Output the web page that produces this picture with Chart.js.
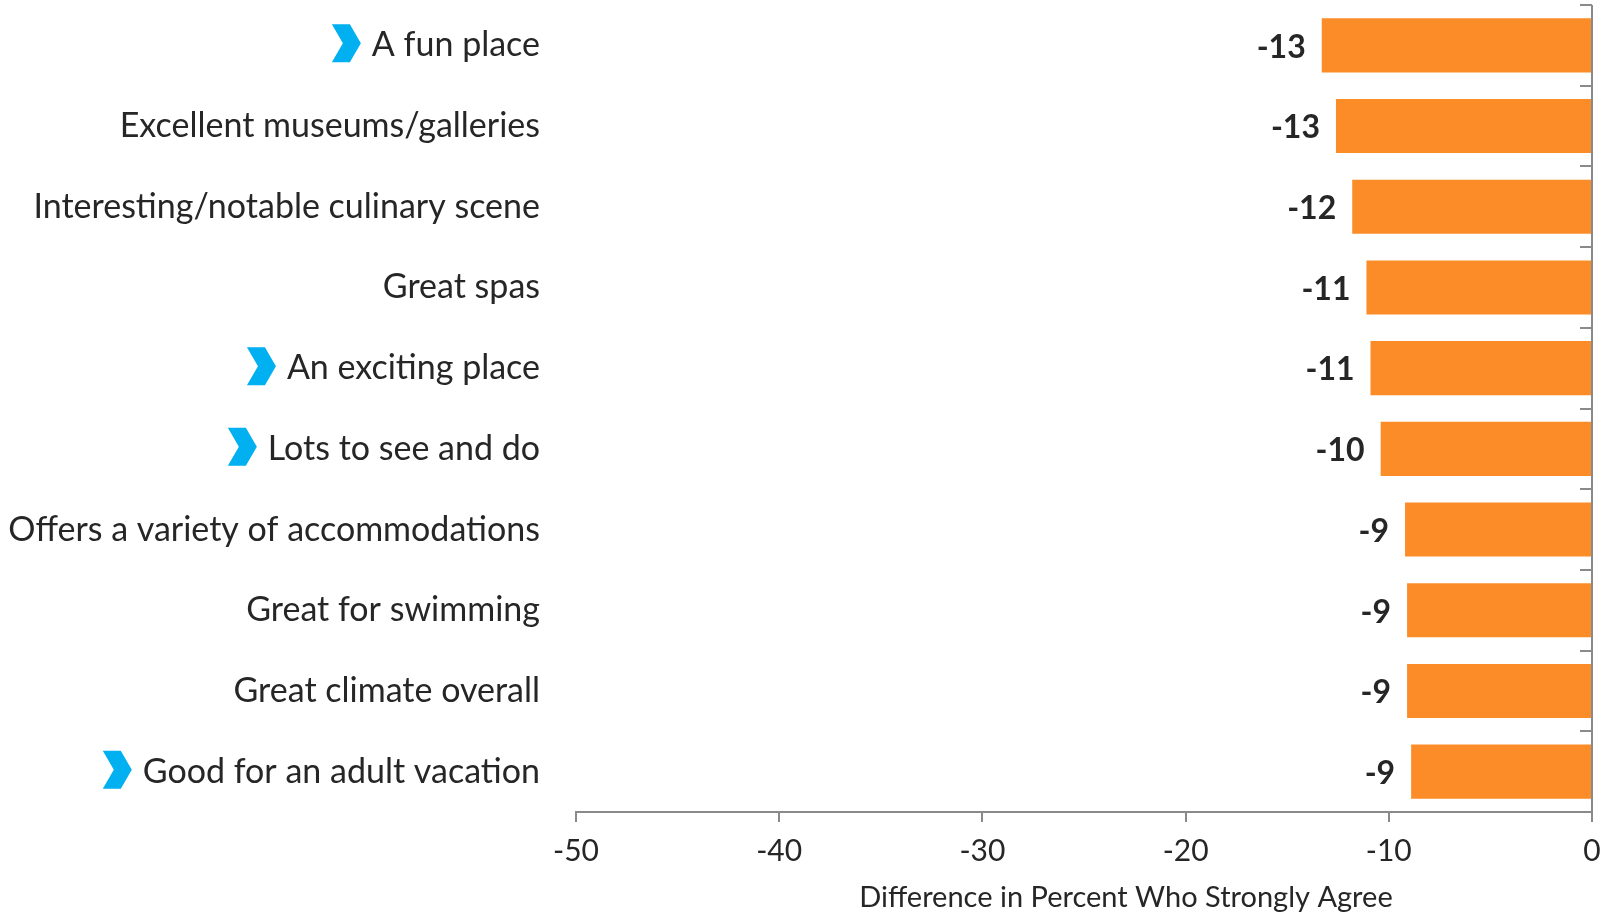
<!DOCTYPE html>
<html>
<head>
<meta charset="utf-8">
<script src="https://cdn.jsdelivr.net/npm/chart.js@4/dist/chart.umd.min.js"></script>
<style>
  html, body { margin: 0; padding: 0; background: #fff; }
  #wrap { width: 1605px; height: 913px; }
</style>
</head>
<body>
<div id="wrap"><canvas id="myChart1" width="1605" height="913"></canvas></div>
<script>
// categories, top to bottom
var categories = [
    'A fun place',
    'Excellent museums/galleries',
    'Interesting/notable culinary scene',
    'Great spas',
    'An exciting place',
    'Lots to see and do',
    'Offers a variety of accommodations',
    'Great for swimming',
    'Great climate overall',
    'Good for an adult vacation'
];
// rows with the blue arrow in front
var highlighted = [true, false, false, false, true, true, false, false, false, true];
// difference in percent who strongly agree
var values = [-13.3, -12.6, -11.8, -11.1, -10.9, -10.4, -9.2, -9.1, -9.1, -8.9];
var xTicks = [-50, -40, -30, -20, -10, 0];
var xTitle = 'Difference in Percent Who Strongly Agree';

var FONT = 'Lato';
var textColor = '#262626';
var axisColor = '#8a8a8a';
var labelPadding = 36;
var labelSize = 34;

// bold numbers left of each bar
var valueLabels = {
    id: 'valueLabels',
    afterDatasetsDraw: function (chart) {
        var ctx = chart.ctx;
        var meta = chart.getDatasetMeta(0);
        ctx.save();
        ctx.font = 'bold 32px ' + FONT;
        ctx.fillStyle = textColor;
        ctx.textAlign = 'right';
        ctx.textBaseline = 'middle';
        meta.data.forEach(function (bar, i) {
            ctx.fillText(String(Math.round(values[i])), bar.x - 16, bar.y + 2);
        });
        ctx.restore();
    }
};

// short inner ticks on the zero line, blue chevrons, axis title
var extras = {
    id: 'extras',
    afterDraw: function (chart) {
        var ctx = chart.ctx;
        var x = chart.scales.x, y = chart.scales.y;
        var x0 = x.getPixelForValue(0);
        ctx.save();
        ctx.strokeStyle = axisColor;
        ctx.lineWidth = 2;
        for (var i = 0; i <= categories.length; i++) {
            var py = Math.round(y.getPixelForValue(i - 0.5));
            ctx.beginPath();
            ctx.moveTo(x0 - 12, py);
            ctx.lineTo(x0, py);
            ctx.stroke();
        }
        ctx.font = labelSize + 'px ' + FONT;
        ctx.fillStyle = '#00b0f0';
        categories.forEach(function (label, i) {
            if (!highlighted[i]) return;
            var w = ctx.measureText(label).width;
            var right = chart.chartArea.left - labelPadding - w - 11;
            var cy = y.getPixelForValue(i) - 2;
            ctx.beginPath();
            ctx.moveTo(right - 29, cy - 19);
            ctx.lineTo(right - 11, cy - 19);
            ctx.lineTo(right, cy);
            ctx.lineTo(right - 11, cy + 19);
            ctx.lineTo(right - 29, cy + 19);
            ctx.lineTo(right - 18, cy);
            ctx.closePath();
            ctx.fill();
        });
        // axis title sits a bit right of the axis centre in the original
        ctx.font = '29px ' + FONT;
        ctx.fillStyle = textColor;
        ctx.textAlign = 'center';
        ctx.textBaseline = 'middle';
        ctx.fillText(xTitle, (x.left + x.right) / 2 + 42, x.bottom - 15);
        ctx.restore();
    }
};

var ctx = document.getElementById('myChart1');
var myChart = new Chart(ctx, {
    type: 'bar',
    data: {
        labels: categories,
        datasets: [{
            label: 'Difference',
            data: values,
            backgroundColor: '#fb8c27',
            borderWidth: 0,
            barPercentage: 0.67,
            categoryPercentage: 1
        }]
    },
    options: {
        indexAxis: 'y',
        responsive: false,
        animation: false,
        layout: { padding: { top: 5, right: 13, left: 0, bottom: 0 } },
        plugins: {
            legend: { display: false },
            tooltip: { enabled: false }
        },
        scales: {
            x: {
                min: -50,
                max: 0,
                afterBuildTicks: function (scale) {
                    scale.ticks = xTicks.map(function (v) { return { value: v }; });
                },
                afterFit: function (scale) {
                    scale.height = 101;
                    scale.paddingRight = 0;
                },
                border: { display: true, color: axisColor, width: 2 },
                grid: {
                    drawOnChartArea: true,
                    color: function (c) { return c.tick && c.tick.value === 0 ? axisColor : 'rgba(0,0,0,0)'; },
                    lineWidth: 2,
                    tickColor: axisColor,
                    tickLength: 10,
                    tickWidth: 2
                },
                ticks: {
                    color: textColor,
                    font: { family: FONT, size: 30 },
                    padding: 11
                },
                title: { display: false }
            },
            y: {
                afterFit: function (scale) {
                    scale.width = 576;
                    scale.paddingTop = 0;
                    scale.paddingBottom = 0;
                },
                border: { display: false },
                grid: { display: false, drawTicks: false },
                ticks: {
                    color: textColor,
                    font: { family: FONT, size: labelSize },
                    padding: labelPadding,
                    autoSkip: false
                }
            }
        }
    },
    plugins: [valueLabels, extras]
});
</script>
</body>
</html>
